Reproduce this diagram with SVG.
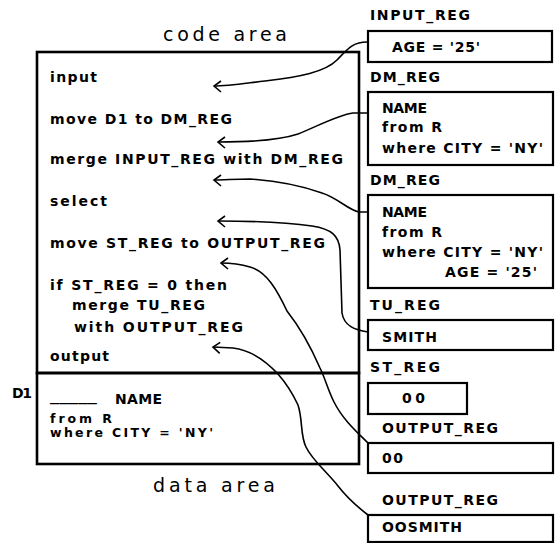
<svg xmlns="http://www.w3.org/2000/svg" width="557" height="543" viewBox="0 0 557 543">
<defs>
<style>
.t{font-family:"DejaVu Sans","Liberation Sans",Arial,sans-serif;font-weight:bold;font-size:14px;fill:#000}
.s{font-size:12.5px}
.h{font-family:"DejaVu Sans","Liberation Sans",Arial,sans-serif;font-size:19px;fill:#000}
.box{fill:none;stroke:#000;stroke-width:2.2}
.main{fill:none;stroke:#000;stroke-width:2.6}
.c{fill:none;stroke:#000;stroke-width:1.6;marker-end:url(#ah)}
</style>
<marker id="ah" markerUnits="userSpaceOnUse" markerWidth="14" markerHeight="14" viewBox="-10 -7 12 14" refX="0" refY="0" orient="auto">
<path d="M-7,-6 L0,0 L-7,5" fill="none" stroke="#000" stroke-width="1.6"/>
</marker>
</defs>
<rect width="557" height="543" fill="#fff"/>

<g id="code-area">
<text class="h" x="163" y="41" textLength="124" lengthAdjust="spacing">code area</text>
<rect class="main" x="37" y="52" width="322" height="321"/>
<text class="t" x="50" y="82" textLength="47" lengthAdjust="spacing">input</text>
<text class="t" x="50" y="124" textLength="182" lengthAdjust="spacing">move D1 to DM_REG</text>
<text class="t" x="50" y="164" textLength="293" lengthAdjust="spacing">merge INPUT_REG with DM_REG</text>
<text class="t" x="50" y="206" textLength="57" lengthAdjust="spacing">select</text>
<text class="t" x="50" y="248" textLength="275" lengthAdjust="spacing">move ST_REG to OUTPUT_REG</text>
<text class="t" x="50" y="290" textLength="177" lengthAdjust="spacing">if ST_REG = 0 then</text>
<text class="t" x="72" y="310" textLength="133" lengthAdjust="spacing">merge TU_REG</text>
<text class="t" x="74" y="332" textLength="169" lengthAdjust="spacing">with OUTPUT_REG</text>
<text class="t" x="50" y="361" textLength="59" lengthAdjust="spacing">output</text>
</g>

<g id="data-area">
<rect class="main" x="37" y="373" width="322" height="91"/>
<text class="t" x="12" y="398" textLength="20" lengthAdjust="spacing">D1</text>
<text class="t" x="50" y="401" textLength="47" lengthAdjust="spacingAndGlyphs">_____</text>
<text class="t" x="115" y="404" textLength="47" lengthAdjust="spacing">NAME</text>
<text class="t s" x="50" y="423" textLength="62" lengthAdjust="spacing">from R</text>
<text class="t s" x="50" y="437" textLength="163" lengthAdjust="spacing">where CITY = 'NY'</text>
<text class="h" x="153" y="492" textLength="122" lengthAdjust="spacing">data area</text>
</g>

<g id="input-reg">
<text class="t" x="370" y="20" textLength="100" lengthAdjust="spacing">INPUT_REG</text>
<rect class="box" x="368" y="31" width="184" height="31"/>
<text class="t" x="392" y="52" textLength="88" lengthAdjust="spacing">AGE = '25'</text>
</g>

<g id="dm-reg-1">
<text class="t" x="370" y="82" textLength="70" lengthAdjust="spacing">DM_REG</text>
<rect class="box" x="368" y="92" width="185" height="73"/>
<text class="t" x="382" y="113" textLength="45" lengthAdjust="spacing">NAME</text>
<text class="t" x="382" y="132" textLength="60" lengthAdjust="spacing">from R</text>
<text class="t" x="382" y="153" textLength="161" lengthAdjust="spacing">where CITY = 'NY'</text>
</g>

<g id="dm-reg-2">
<text class="t" x="370" y="185" textLength="70" lengthAdjust="spacing">DM_REG</text>
<rect class="box" x="368" y="195" width="185" height="93"/>
<text class="t" x="382" y="217" textLength="45" lengthAdjust="spacing">NAME</text>
<text class="t" x="382" y="237" textLength="60" lengthAdjust="spacing">from R</text>
<text class="t" x="382" y="257" textLength="161" lengthAdjust="spacing">where CITY = 'NY'</text>
<text class="t" x="445" y="277" textLength="92" lengthAdjust="spacing">AGE = '25'</text>
</g>

<g id="tu-reg">
<text class="t" x="370" y="310" textLength="70" lengthAdjust="spacing">TU_REG</text>
<rect class="box" x="368" y="320" width="185" height="30"/>
<text class="t" x="382" y="342" textLength="55" lengthAdjust="spacing">SMITH</text>
</g>

<g id="st-reg">
<text class="t" x="370" y="372" textLength="70" lengthAdjust="spacing">ST_REG</text>
<rect class="box" x="368" y="383" width="99" height="31"/>
<text class="t" x="402" y="403" textLength="23" lengthAdjust="spacing">00</text>
</g>

<g id="output-reg-1">
<text class="t" x="382" y="433" textLength="116" lengthAdjust="spacing">OUTPUT_REG</text>
<rect class="box" x="368" y="443" width="185" height="30"/>
<text class="t" x="382" y="463" textLength="21" lengthAdjust="spacing">00</text>
</g>

<g id="output-reg-2">
<text class="t" x="382" y="505" textLength="116" lengthAdjust="spacing">OUTPUT_REG</text>
<rect class="box" x="368" y="515" width="185" height="27"/>
<text class="t" x="382" y="532" textLength="80" lengthAdjust="spacing">OOSMITH</text>
</g>

<g id="connectors">
<path class="c" d="M367,42 C352,42 347,50 337,60 C325,72 300,77 265,81 C240,84 228,86 214,86"/>
<path class="c" d="M368,113 L353,113 C338,115 318,126 298,134 C280,140 255,142 218,142"/>
<path class="c" d="M368,212 L359,212 C348,210 338,198 322,193 C305,187 280,181 250,179 C235,179 225,180 214,180"/>
<path class="c" d="M368,332 C355,330 344,326 342,313 L340,250 C339,236 332,229 312,226 C285,222 250,221 218,221"/>
<path class="c" d="M368,443 C358,433 343,420 334,402 C328,390 325,378 320,368 C310,345 298,325 287,311 C277,290 267,272 250,267 C240,264 232,263 221,263"/>
<path class="c" d="M368,515 C355,505 345,495 338,486 C327,472 312,460 306,447 C300,435 303,420 298,405 C292,392 285,382 278,374 C265,360 250,350 233,348 L213,347"/>
</g>
</svg>
